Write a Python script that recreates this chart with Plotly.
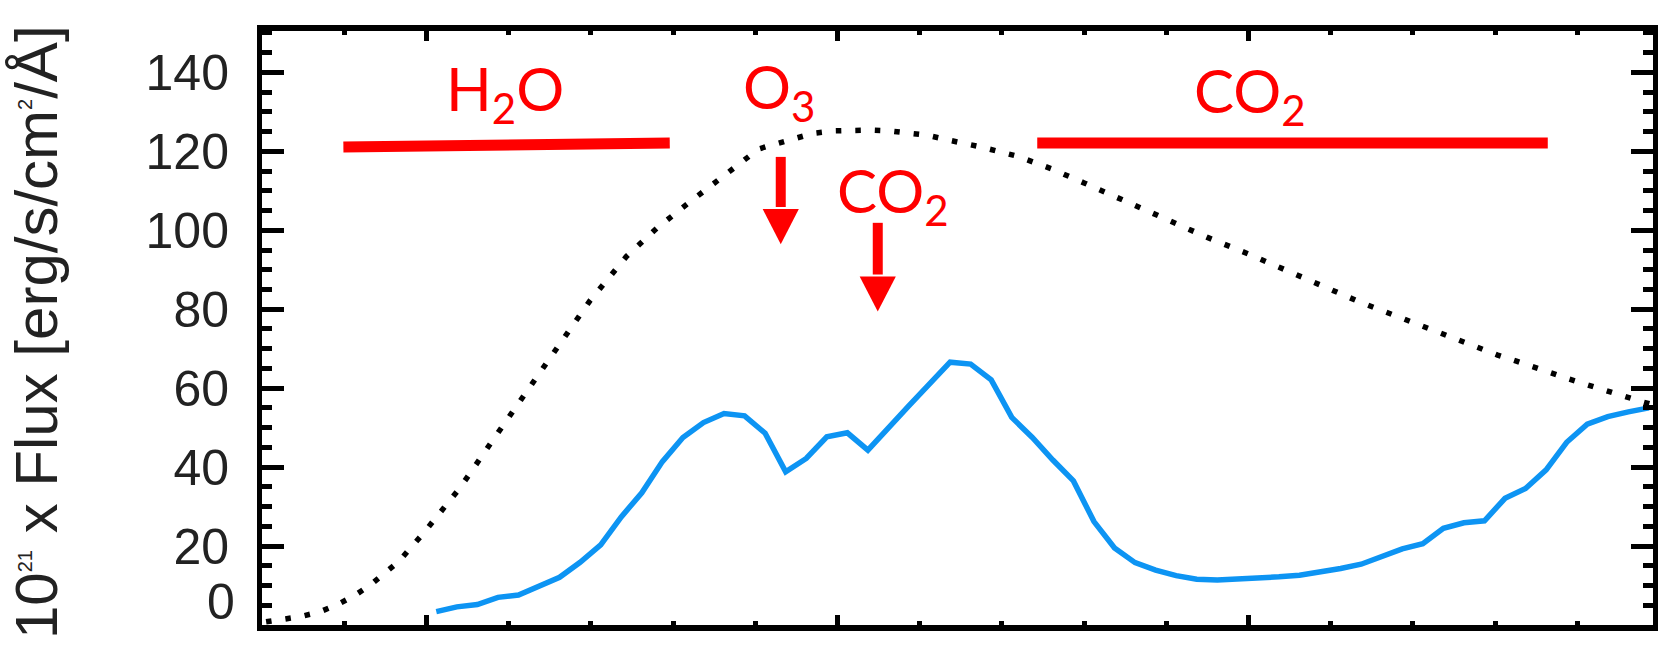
import plotly.graph_objects as go

# Observed flux spectrum (wavelength, flux) and the reference blackbody curve
wave_obs = [5.12, 5.37, 5.62, 5.87, 6.12, 6.37, 6.62, 6.87, 7.12, 7.37,
            7.62, 7.87, 8.12, 8.37, 8.62, 8.87, 9.12, 9.37, 9.62, 9.87,
            10.12, 10.37, 10.62, 10.87, 11.12, 11.37, 11.62, 11.87, 12.12, 12.37,
            12.62, 12.87, 13.12, 13.37, 13.62, 13.87, 14.12, 14.37, 14.62, 14.87,
            15.12, 15.37, 15.62, 15.87, 16.12, 16.37, 16.62, 16.87, 17.12, 17.37,
            17.62, 17.87, 18.12, 18.37, 18.62, 18.87, 19.12, 19.37, 19.62, 19.87]
flux_obs = [3.4, 4.6, 5.2, 7.0, 7.6, 9.7, 12.1, 15.9, 20.3, 27.4,
            33.5, 41.4, 47.5, 51.3, 53.6, 53.0, 48.6, 38.8, 42.2, 47.7,
            48.7, 44.3, 50.2, 55.6, 61.1, 66.6, 66.1, 62.1, 52.6, 47.5,
            41.8, 36.5, 26.2, 19.5, 15.8, 13.9, 12.5, 11.6, 11.4, 11.6,
            11.9, 12.2, 12.6, 13.3, 14.3, 15.4, 17.3, 19.3, 20.6, 24.5,
            25.9, 26.4, 32.1, 34.6, 39.3, 46.3, 50.9, 52.8, 54.0, 55.0]

wave_bb = [3.05, 3.25, 3.46, 3.70, 3.91, 4.12, 4.31, 4.49, 4.66, 4.97,
           5.41, 5.80, 6.20, 6.59, 6.99, 7.43, 7.80, 8.18, 8.57, 8.82,
           9.04, 9.25, 9.47, 9.71, 9.96, 10.17, 10.42, 10.63, 10.88, 11.09,
           11.32, 11.55, 11.77, 12.2, 12.6, 13.0, 13.5, 14.0, 14.5, 15.00,
           15.24, 15.45, 15.67, 15.88, 16.10, 16.30, 16.52, 16.74, 16.95, 17.16,
           17.38, 17.59, 17.81, 18.03, 18.25, 18.46, 18.68, 18.90, 19.13, 19.35,
           19.57, 19.78, 19.92]
flux_bb = [0.8, 1.4, 2.1, 3.3, 5.1, 7.4, 10.0, 13.1, 16.0, 23.4,
           34.8, 46.6, 58.5, 70.4, 82.2, 93.3, 100.5, 106.8, 113.0, 117.3,
           120.6, 121.9, 123.3, 124.6, 125.2, 125.4, 125.4, 125.2, 124.7, 124.1,
           123.0, 122.0, 121.0, 118.7, 115.6, 112.0, 107.3, 102.6, 98.2, 94.0,
           91.8, 89.9, 88.0, 86.1, 84.2, 82.3, 80.5, 78.7, 76.9, 75.2,
           73.5, 71.8, 70.1, 68.4, 66.9, 65.3, 63.8, 62.3, 60.8, 59.3,
           57.9, 56.6, 55.8]

# Absorption bands (horizontal bars) and single features (arrows)
band_x0 = [3.99, 12.43]
band_x1 = [7.96, 18.64]
band_y0 = [121.1, 122.1]
band_y1 = [122.1, 122.1]

arrow_x = [9.31, 10.49]
arrow_top = [118.6, 101.9]
arrow_tip = [96.5, 79.4]

label_text = ["H<sub>2</sub>O", "O<sub>3</sub>", "CO<sub>2</sub>", "CO<sub>2</sub>"]
label_x = [5.95, 9.29, 10.68, 15.02]
label_y = [135.0, 135.4, 109.2, 134.3]

y_ticks = [0, 20, 40, 60, 80, 100, 120, 140]
x_major = [5, 10, 15]

RED = "#ff0000"
BLUE = "#0d94f3"
TICK_FONT = dict(family="Liberation Sans", size=50, color="#222")

fig = go.Figure()
fig.add_trace(go.Scatter(
    x=wave_bb, y=flux_bb, mode="lines",
    line=dict(color="black", width=5.5, dash="5.5px,14px"),
    hoverinfo="skip", showlegend=False))
fig.add_trace(go.Scatter(
    x=wave_obs, y=flux_obs, mode="lines",
    line=dict(color=BLUE, width=5.5),
    showlegend=False))

shapes = []
for x0, x1, y0, y1 in zip(band_x0, band_x1, band_y0, band_y1):
    shapes.append(dict(type="line", xref="x", yref="y", x0=x0, x1=x1, y0=y0, y1=y1,
                       line=dict(color=RED, width=11)))

head_len = 8.9    # arrow head length in flux units
head_half = 0.22  # arrow head half-width in wavelength units
for ax_, top, tip in zip(arrow_x, arrow_top, arrow_tip):
    base = tip + head_len
    shapes.append(dict(type="line", xref="x", yref="y", x0=ax_, x1=ax_, y0=top, y1=base + 0.5,
                       line=dict(color=RED, width=10)))
    shapes.append(dict(type="path", xref="x", yref="y",
                       path=f"M {ax_ - head_half},{base} L {ax_ + head_half},{base} L {ax_},{tip} Z",
                       fillcolor=RED, line=dict(width=0)))

annotations = []
for t, x, y in zip(label_text, label_x, label_y):
    annotations.append(dict(text=t, x=x, y=y, xref="x", yref="y", showarrow=False,
                            xanchor="center", yanchor="middle",
                            font=dict(family="Lato", size=60, color=RED)))

# zero label sits a little above its tick
annotations.append(dict(text="0", x=0, y=0, xref="paper", yref="y", showarrow=False,
                        xanchor="right", yanchor="middle", xshift=-25, yshift=23,
                        font=TICK_FONT))

sup = "<span style='font-size:20px'>{}</span>"
annotations.append(dict(
    text="10<sup>" + sup.format("21") + "</sup> x Flux [erg/s/cm<sup>" + sup.format("2") + "</sup>/Å]",
    x=0, y=0.5, xref="paper", yref="paper", showarrow=False,
    xanchor="center", yanchor="middle", xshift=-226, yshift=-4, textangle=-90,
    font=dict(family="Liberation Sans", size=60, color="#222")))

fig.update_layout(
    width=1663, height=645,
    margin=dict(l=262, r=5, t=31, b=20),
    paper_bgcolor="white", plot_bgcolor="white",
    shapes=shapes, annotations=annotations,
    xaxis=dict(range=[3, 19.92], tickvals=x_major, showticklabels=False,
               ticks="inside", ticklen=10, tickwidth=5, tickcolor="black",
               minor=dict(dtick=1, ticks="inside", ticklen=4, tickwidth=5, tickcolor="black"),
               showline=True, linewidth=6, linecolor="black", mirror="allticks",
               showgrid=False, zeroline=False),
    yaxis=dict(range=[0, 150.5], tickvals=y_ticks,
               ticktext=[""] + [str(v) for v in y_ticks[1:]],
               ticks="inside", ticklen=22, tickwidth=5, tickcolor="black",
               minor=dict(dtick=5, ticks="inside", ticklen=10, tickwidth=5, tickcolor="black"),
               showline=True, linewidth=5, linecolor="black", mirror="allticks",
               showgrid=False, zeroline=False, ticklabelstandoff=18,
               tickfont=TICK_FONT),
)

fig.write_html("out.html")
